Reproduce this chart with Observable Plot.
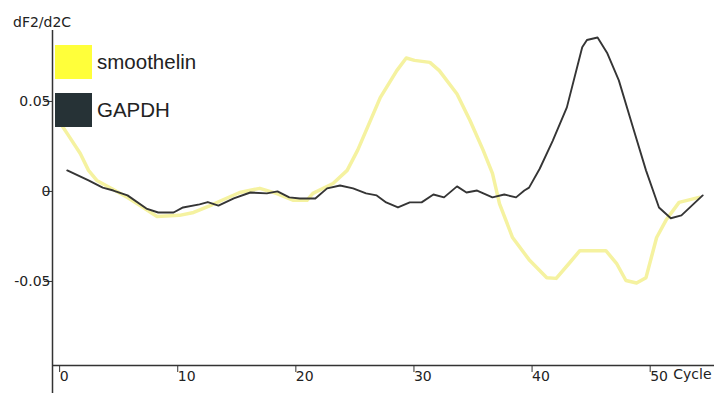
<!DOCTYPE html>
<html>
<head>
<meta charset="utf-8">
<script src="https://cdn.jsdelivr.net/npm/d3@7"></script>
<script src="https://cdn.jsdelivr.net/npm/@observablehq/plot@0.6"></script>
<style>
  html, body { margin: 0; padding: 0; background: #fff; }
  #wrap { position: relative; width: 714px; height: 393px; }
  #title { position: absolute; left: 13px; top: 14px; font: 14px "DejaVu Sans", sans-serif; color: #222; }
  .leg { position: absolute; left: 55px; display: flex; align-items: center; font: 20.5px "Liberation Sans", Arial, sans-serif; color: #222; }
  .leg .sw { width: 37px; height: 34px; margin-right: 5px; }
</style>
</head>
<body>
<div id="wrap"></div>
<script>
const seriesNames = ["smoothelin", "GAPDH"];
const seriesColors = ["#ffff3a", "#263236"];
const lineColors = ["#f5f2a0", "#353535"];

const smoothelinCycle = [0.5,0.9,2.0,2.7,3.4,4.8,6.0,7.1,8.5,10.4,11.6,13.0,14.0,15.5,17.2,18.6,20.0,21.2,21.7,23.4,24.6,25.5,27.4,28.8,29.6,30.3,31.6,32.4,33.9,35.0,36.1,36.9,37.5,38.6,40.0,41.5,42.3,43.4,44.3,45.4,46.5,47.4,48.2,49.1,49.9,50.8,51.6,52.7,54.4];
const smoothelinValue = [0.040,0.036,0.025,0.0156,0.010,0.005,0.0005,-0.004,-0.0100,-0.0094,-0.0078,-0.004,-0.001,0.0033,0.0056,0.0028,-0.001,-0.001,0.0028,0.0083,0.0156,0.027,0.056,0.071,0.078,0.0767,0.0756,0.071,0.058,0.0433,0.027,0.0139,-0.003,-0.0217,-0.034,-0.044,-0.0444,-0.036,-0.029,-0.029,-0.029,-0.036,-0.0456,-0.047,-0.044,-0.0217,-0.012,-0.0022,0.0006];

const gapdhCycle = [0.9,2.7,3.9,4.8,6.0,7.6,8.6,9.9,10.7,12.1,12.8,13.7,15.0,16.4,17.8,18.7,19.7,20.6,21.9,22.9,24.0,25.1,26.2,27.1,27.9,28.9,29.9,30.9,31.9,32.8,33.9,34.7,35.6,36.9,37.9,38.9,39.6,40.0,40.9,42.0,43.2,44.5,44.9,45.8,46.6,47.6,48.8,49.9,51.0,52.0,52.9,54.7];
const gapdhValue = [0.0156,0.010,0.006,0.0044,0.0017,-0.0056,-0.0078,-0.0078,-0.005,-0.0033,-0.002,-0.004,0,0.0033,0.0028,0.0039,0.0006,0,0,0.0056,0.0072,0.0056,0.0028,0.0017,-0.0022,-0.005,-0.0022,-0.0022,0.0022,0.0006,0.0067,0.0033,0.0044,0.0006,0.0022,0.0006,0.0044,0.006,0.0165,0.032,0.0506,0.084,0.088,0.0894,0.081,0.0656,0.0394,0.0156,-0.005,-0.011,-0.0094,0.0017];

const xTicks = [0, 10, 20, 30, 40, 50];
const yTicks = [-0.05, 0, 0.05];
const yTickLabels = ["-0.05", "0", "0.05"];
const xDomain = [-0.35, 55.7];
const yDomain = [-0.0928, 0.0933];

const smoothelin = smoothelinCycle.map((c, i) => ({cycle: c, value: smoothelinValue[i]}));
const gapdh = gapdhCycle.map((c, i) => ({cycle: c, value: gapdhValue[i]}));

const chart = Plot.plot({
  width: 714,
  height: 393,
  marginLeft: 52,
  marginTop: 30,
  marginBottom: 28,
  marginRight: 0,
  style: {fontFamily: "DejaVu Sans, sans-serif", fontSize: "14px", color: "#222", background: "#fff"},
  x: {domain: xDomain},
  y: {domain: yDomain},
  marks: [
    Plot.ruleX([xDomain[0]], {stroke: "#333", strokeWidth: 1.5, insetBottom: -28}),
    Plot.ruleY([yDomain[0]], {stroke: "#333", strokeWidth: 1.5}),
    Plot.axisX({ticks: xTicks, tickSize: 7, tickPadding: -1, textAnchor: "start", dx: 3, tickFormat: d => String(d), label: null, stroke: "#333", fill: "#222"}),
    Plot.axisY({ticks: yTicks, tickSize: 8, tickPadding: -6, dy: -7, tickFormat: d => yTickLabels[yTicks.indexOf(d)], label: null, stroke: "#333", fill: "#222"}),
    Plot.text(["Cycle"], {frameAnchor: "bottom-right", dx: -3, dy: 13, textAnchor: "end", fill: "#222"}),
    Plot.line(smoothelin, {x: "cycle", y: "value", stroke: lineColors[0], strokeWidth: 3.5, curve: "linear"}),
    Plot.line(gapdh, {x: "cycle", y: "value", stroke: lineColors[1], strokeWidth: 1.9, curve: "linear"})
  ]
});

const wrap = document.getElementById("wrap");
wrap.appendChild(chart);
const title = document.createElement("div");
title.id = "title";
title.textContent = "dF2/d2C";
wrap.appendChild(title);
const legTops = [45, 93];
seriesNames.forEach((name, i) => {
  const item = document.createElement("div");
  item.className = "leg";
  item.style.top = legTops[i] + "px";
  const sw = document.createElement("div");
  sw.className = "sw";
  sw.style.background = seriesColors[i];
  const t = document.createElement("span");
  t.textContent = name;
  item.appendChild(sw);
  item.appendChild(t);
  wrap.appendChild(item);
});
</script>
</body>
</html>
